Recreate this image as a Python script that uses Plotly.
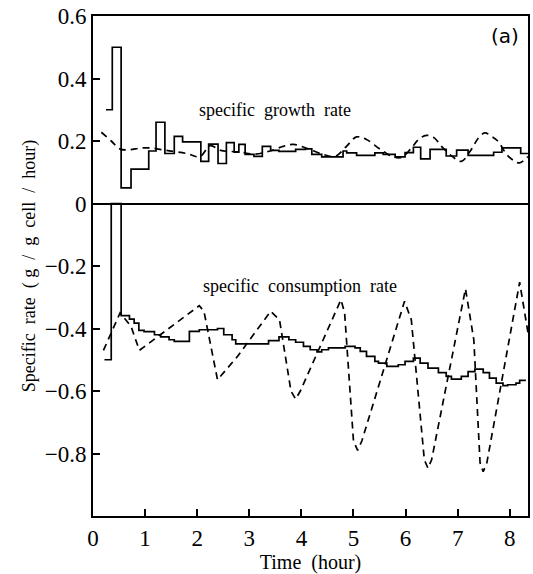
import plotly.graph_objects as go

# ---- data ----
growth_exp_t = [0.25, 0.37, 0.54, 0.73, 1.07, 1.21, 1.38, 1.56, 1.72, 2.07, 2.22, 2.40, 2.56, 2.71,
                2.80, 2.92, 3.09, 3.25, 3.41, 3.57, 3.89, 4.08, 4.20, 4.39, 4.80, 4.87, 5.06, 5.41,
                5.57, 5.80, 5.99, 6.15, 6.29, 6.47, 6.78, 6.98, 7.20, 7.69, 7.85, 8.21, 8.35]
growth_exp_v = [0.30, 0.50, 0.05, 0.11, 0.168, 0.26, 0.16, 0.215, 0.197, 0.135, 0.19, 0.128, 0.195, 0.164,
                0.189, 0.157, 0.151, 0.183, 0.17, 0.167, 0.173, 0.175, 0.157, 0.149, 0.168, 0.162, 0.154, 0.162,
                0.157, 0.149, 0.163, 0.18, 0.143, 0.173, 0.152, 0.171, 0.154, 0.164, 0.178, 0.16, 0.16]

growth_mod_t = [0.16, 0.35, 0.52, 0.70, 0.90, 1.10, 1.40, 1.80, 2.05, 2.25, 2.45, 2.80, 3.10, 3.40,
                3.65, 3.85, 4.10, 4.40, 4.65, 4.85, 5.06, 5.25, 5.50, 5.75, 5.92, 6.10, 6.25, 6.40,
                6.55, 6.69, 6.90, 7.07, 7.25, 7.40, 7.52, 7.65, 7.77, 7.95, 8.10, 8.19, 8.35]
growth_mod_v = [0.228, 0.20, 0.174, 0.172, 0.177, 0.178, 0.17, 0.16, 0.15, 0.185, 0.17, 0.165, 0.158, 0.168,
                0.183, 0.189, 0.177, 0.158, 0.151, 0.18, 0.213, 0.205, 0.175, 0.15, 0.147, 0.175, 0.205, 0.218,
                0.21, 0.183, 0.15, 0.135, 0.17, 0.21, 0.226, 0.215, 0.20, 0.155, 0.135, 0.13, 0.15]

cons_exp_t = [0.22, 0.35, 0.54, 0.70, 0.79, 0.88, 0.98, 1.18, 1.30, 1.46, 1.56, 1.85, 2.04, 2.39, 2.51,
              2.67, 2.74, 3.37, 3.57, 3.76, 3.89, 4.04, 4.17, 4.30, 4.39, 4.52, 4.84, 5.03, 5.13, 5.25,
              5.41, 5.48, 5.64, 5.86, 5.99, 6.15, 6.28, 6.43, 6.63, 6.78, 6.88, 7.07, 7.20, 7.33, 7.49,
              7.61, 7.74, 7.87, 7.96, 8.12, 8.19, 8.31]
cons_exp_v = [-0.50, 0.0, -0.359, -0.37, -0.383, -0.406, -0.41, -0.42, -0.427, -0.436, -0.441, -0.409, -0.404, -0.40, -0.42,
              -0.436, -0.449, -0.439, -0.427, -0.436, -0.444, -0.457, -0.468, -0.475, -0.468, -0.462, -0.457, -0.462, -0.473, -0.489,
              -0.505, -0.511, -0.521, -0.516, -0.505, -0.495, -0.511, -0.527, -0.541, -0.553, -0.562, -0.553, -0.538, -0.53, -0.541,
              -0.559, -0.575, -0.583, -0.58, -0.575, -0.566, -0.566]

cons_mod_t = [0.20, 0.52, 0.73, 0.89, 2.04, 2.13, 2.39, 2.77, 3.41, 3.58, 3.80, 3.89, 3.98, 4.76, 4.83,
              5.00, 5.08, 5.16, 5.98, 6.11, 6.36, 6.43, 6.50, 7.15, 7.31, 7.43, 7.49, 7.56, 8.19, 8.35]
cons_mod_v = [-0.47, -0.35, -0.393, -0.47, -0.327, -0.345, -0.564, -0.49, -0.345, -0.372, -0.60, -0.626, -0.60, -0.308, -0.35,
              -0.76, -0.79, -0.76, -0.313, -0.372, -0.82, -0.847, -0.82, -0.273, -0.436, -0.83, -0.858, -0.83, -0.252, -0.414]

y_ticks = [0.6, 0.4, 0.2, 0, -0.2, -0.4, -0.6, -0.8]
y_ticktext = ["0.6", "0.4", "0.2", "0", "\u22120.2", "\u22120.4", "\u22120.6", "\u22120.8"]
x_ticks = [0, 1, 2, 3, 4, 5, 6, 7, 8]

SERIF = "Liberation Serif"

fig = go.Figure()
line_solid = dict(color="black", width=1.7)
line_dash = dict(color="black", width=1.7, dash="7px,5px")

fig.add_trace(go.Scatter(x=growth_mod_t, y=growth_mod_v, mode="lines", line=line_dash, line_shape="spline"))
fig.add_trace(go.Scatter(x=growth_exp_t, y=growth_exp_v, mode="lines", line=line_solid, line_shape="hv"))
fig.add_trace(go.Scatter(x=cons_mod_t, y=cons_mod_v, mode="lines", line=line_dash))
fig.add_trace(go.Scatter(x=cons_exp_t, y=cons_exp_v, mode="lines", line=line_solid, line_shape="hv"))

fig.update_layout(
    width=533, height=574,
    margin=dict(l=93, r=3, t=16, b=58),
    paper_bgcolor="white", plot_bgcolor="white",
    showlegend=False,
    font=dict(family=SERIF, color="black"),
    xaxis=dict(range=[0, 8.35], tickvals=x_ticks, ticks="inside", ticklen=7, tickwidth=1.5,
               tickcolor="black", showline=True, linecolor="black", linewidth=2, mirror=True,
               showgrid=False, zeroline=False,
               tickfont=dict(family=SERIF, size=23, color="black"),
               title=dict(text="Time  (hour)", font=dict(family=SERIF, size=20), standoff=6)),
    yaxis=dict(range=[-1.0, 0.6], tickvals=y_ticks, ticktext=y_ticktext, ticks="inside", ticklen=7,
               tickwidth=1.5, tickcolor="black", showline=True, linecolor="black", linewidth=2, mirror=True,
               showgrid=False, zeroline=True, zerolinecolor="black", zerolinewidth=2,
               tickfont=dict(family=SERIF, size=23, color="black"),
               title=dict(text="Specific  rate  ( g  /  g  cell  /  hour)", font=dict(family=SERIF, size=18),
                          standoff=4)),
    annotations=[
        dict(x=3.5, y=0.30, xref="x", yref="y", text="specific  growth  rate", showarrow=False,
             font=dict(family=SERIF, size=18)),
        dict(x=3.98, y=-0.265, xref="x", yref="y", text="specific  consumption  rate", showarrow=False,
             font=dict(family=SERIF, size=18)),
        dict(x=(507 - 93) / 437, y=1 - (36 - 16) / 500, xref="paper", yref="paper", text="(a)",
             showarrow=False, xanchor="center", yanchor="middle",
             font=dict(family="DejaVu Sans", size=20)),
    ],
)

fig.write_html("out.html", config={"displayModeBar": False})
